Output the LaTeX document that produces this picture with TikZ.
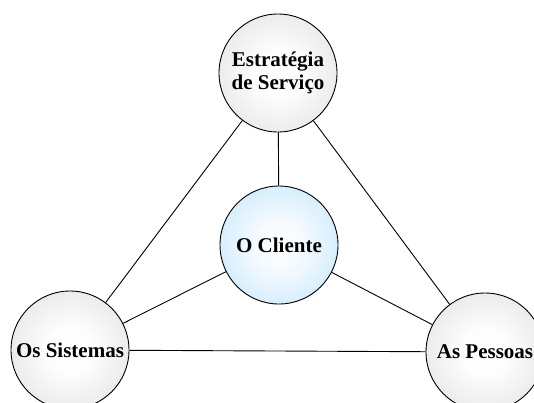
\documentclass[tikz,border=0pt]{standalone}
\usepackage{fontspec}
\setmainfont{Liberation Serif}
\definecolor{ballrim}{HTML}{D0D0D0}
\definecolor{corerim}{HTML}{BEE3FC}
\pgfdeclareradialshading{ballfill}{\pgfpoint{0bp}{0bp}}{%
  color(0bp)=(white); color(10bp)=(white!95!ballrim); color(50bp)=(ballrim)}
\pgfdeclareradialshading{corefill}{\pgfpoint{0bp}{0bp}}{%
  color(0bp)=(white); color(10bp)=(white!85!corerim); color(38bp)=(corerim); color(50bp)=(corerim)}
\begin{document}
\begin{tikzpicture}[x=1pt,y=-1pt,
  ball/.style={circle, draw=black, line width=0.9pt, minimum size=118pt, inner sep=0pt,
    shading=ballfill, align=center,
    font=\fontsize{21}{23}\selectfont\bfseries},
  core/.style={ball, shading=corefill},
  link/.style={draw=black, line width=0.9pt}]
  \useasboundingbox (0,0) rectangle (534,402);
  \node[ball] (strat) at (278,73) {Estratégia\\de Serviço};
  \node[core] (client) at (279,245) {O Cliente};
  \node[ball] (sys) at (70,350) {Os Sistemas};
  \node[ball] (people) at (485,352) {As Pessoas};
  \draw[link] (strat) -- (client);
  \draw[link] (strat) -- (sys);
  \draw[link] (strat) -- (people);
  \draw[link] (client) -- (sys);
  \draw[link] (client) -- (people);
  \draw[link] (sys) -- (people);
\end{tikzpicture}
\end{document}
